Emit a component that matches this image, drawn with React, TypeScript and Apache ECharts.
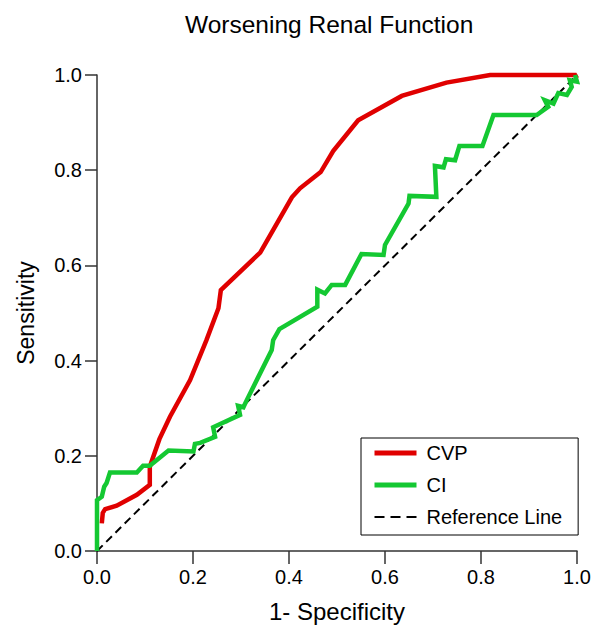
import React, { useEffect, useRef } from "react";
import * as echarts from "echarts";

const titleText = "Worsening Renal Function";
const xAxisTitle = "1- Specificity";
const yAxisTitle = "Sensitivity";
const seriesNames = ["CVP", "CI", "Reference Line"];

const cvpPoints: number[][] = [
  [0.010, 0.058], [0.012, 0.080], [0.017, 0.088], [0.041, 0.095], [0.083, 0.118],
  [0.110, 0.139], [0.110, 0.177], [0.130, 0.235], [0.152, 0.282], [0.194, 0.359],
  [0.228, 0.443], [0.253, 0.510], [0.258, 0.548], [0.340, 0.627], [0.406, 0.743],
  [0.423, 0.762], [0.466, 0.796], [0.492, 0.840], [0.544, 0.905], [0.635, 0.956],
  [0.728, 0.984], [0.819, 1.0], [0.996, 1.0], [1.0, 0.993],
];

const ciPoints: number[][] = [
  [0, 0], [0, 0.107], [0.010, 0.114], [0.015, 0.135], [0.020, 0.143], [0.027, 0.165],
  [0.083, 0.165], [0.096, 0.179], [0.110, 0.179], [0.149, 0.211], [0.201, 0.209],
  [0.204, 0.225], [0.215, 0.227], [0.246, 0.240], [0.242, 0.260], [0.298, 0.286],
  [0.294, 0.305], [0.305, 0.302], [0.312, 0.317], [0.364, 0.422], [0.367, 0.443],
  [0.380, 0.466], [0.459, 0.513], [0.459, 0.549], [0.475, 0.541], [0.489, 0.559],
  [0.517, 0.559], [0.551, 0.624], [0.597, 0.622], [0.600, 0.643], [0.649, 0.730],
  [0.651, 0.746], [0.707, 0.744], [0.704, 0.809], [0.722, 0.806], [0.727, 0.823],
  [0.746, 0.821], [0.755, 0.851], [0.803, 0.851], [0.826, 0.916], [0.916, 0.916],
  [0.940, 0.933], [0.933, 0.947], [0.951, 0.940], [0.961, 0.962], [0.979, 0.958],
  [0.989, 0.975], [0.985, 0.989], [1.0, 0.986], [0.996, 1.0],
];

const referencePoints: number[][] = [[0, 0], [1, 1]];

const FONT = "'Liberation Sans', Arial, Helvetica, sans-serif";
const RED = "#e00000";
const GREEN = "#14c832";
const DASH_ICON =
  "path://M0,0L0.01,0.01Z M0,6H10V8H0Z M16,6H26V8H16Z M32,6H42V8H32Z M41.99,13.99L42,14Z";

export default function App() {
  const ref = useRef<HTMLDivElement>(null);

  useEffect(() => {
    if (!ref.current) return;
    const chart = echarts.init(ref.current, null, { renderer: "svg" });
    const axisCommon = {
      type: "value" as const,
      min: 0,
      max: 1,
      interval: 0.2,
      splitLine: { show: false },
      axisLine: { show: true, lineStyle: { color: "#333", width: 1.5 } },
      axisTick: { show: true, lineStyle: { color: "#333", width: 1.5 } },
      nameLocation: "middle" as const,
      nameTextStyle: { color: "#000", fontFamily: FONT, fontSize: 24 },
    };
    const hiddenSymbol = { opacity: 0, borderWidth: 0 };
    chart.setOption({
      animation: false,
      backgroundColor: "#fff",
      title: {
        text: titleText,
        left: 185,
        top: 12,
        padding: 0,
        textStyle: { color: "#000", fontFamily: FONT, fontSize: 24.5, fontWeight: "normal" },
      },
      grid: { left: 97, right: 31, top: 75, bottom: 83 },
      legend: {
        orient: "vertical",
        left: 361,
        top: 438,
        padding: [5, 16, 8, 11],
        itemWidth: 42,
        itemHeight: 14,
        itemGap: 12,
        backgroundColor: "#fff",
        borderColor: "#000",
        borderWidth: 1,
        borderRadius: 0,
        selectedMode: false,
        textStyle: {
          color: "#000",
          fontFamily: FONT,
          fontSize: 20,
          lineHeight: 20,
          padding: [0, 0, 0, 5],
        },
        data: [
          { name: seriesNames[0], itemStyle: hiddenSymbol, lineStyle: { width: 5, color: RED } },
          { name: seriesNames[1], itemStyle: hiddenSymbol, lineStyle: { width: 5, color: GREEN } },
          {
            name: seriesNames[2],
            icon: DASH_ICON,
            itemStyle: { color: "#000", opacity: 1, borderWidth: 0 },
          },
        ],
      },
      xAxis: {
        ...axisCommon,
        name: xAxisTitle,
        nameGap: 48,
        axisTick: { ...axisCommon.axisTick, length: 13 },
        axisLabel: {
          color: "#000",
          fontFamily: FONT,
          fontSize: 20,
          margin: 16,
          formatter: (v: number) => v.toFixed(1),
        },
      },
      yAxis: {
        ...axisCommon,
        name: yAxisTitle,
        nameGap: 60,
        nameTextStyle: { ...axisCommon.nameTextStyle, fontSize: 23 },
        axisTick: { ...axisCommon.axisTick, length: 12 },
        axisLabel: {
          color: "#000",
          fontFamily: FONT,
          fontSize: 20,
          margin: 15,
          formatter: (v: number) => v.toFixed(1),
        },
      },
      series: [
        {
          name: seriesNames[2],
          type: "line",
          data: referencePoints,
          symbol: "none",
          clip: false,
          lineStyle: { color: "#000", width: 2, type: [8, 5] },
          itemStyle: { color: "#000" },
        },
        {
          name: seriesNames[0],
          type: "line",
          data: cvpPoints,
          symbol: "none",
          clip: false,
          lineStyle: { color: RED, width: 4.5, join: "miter" },
          itemStyle: { color: RED },
        },
        {
          name: seriesNames[1],
          type: "line",
          data: ciPoints,
          symbol: "none",
          clip: false,
          lineStyle: { color: GREEN, width: 4.5, join: "miter" },
          itemStyle: { color: GREEN },
        },
      ],
    });
    return () => chart.dispose();
  }, []);

  return (
    <div
      ref={ref}
      style={{ position: "fixed", left: 0, top: 0, width: 608, height: 634 }}
    />
  );
}
